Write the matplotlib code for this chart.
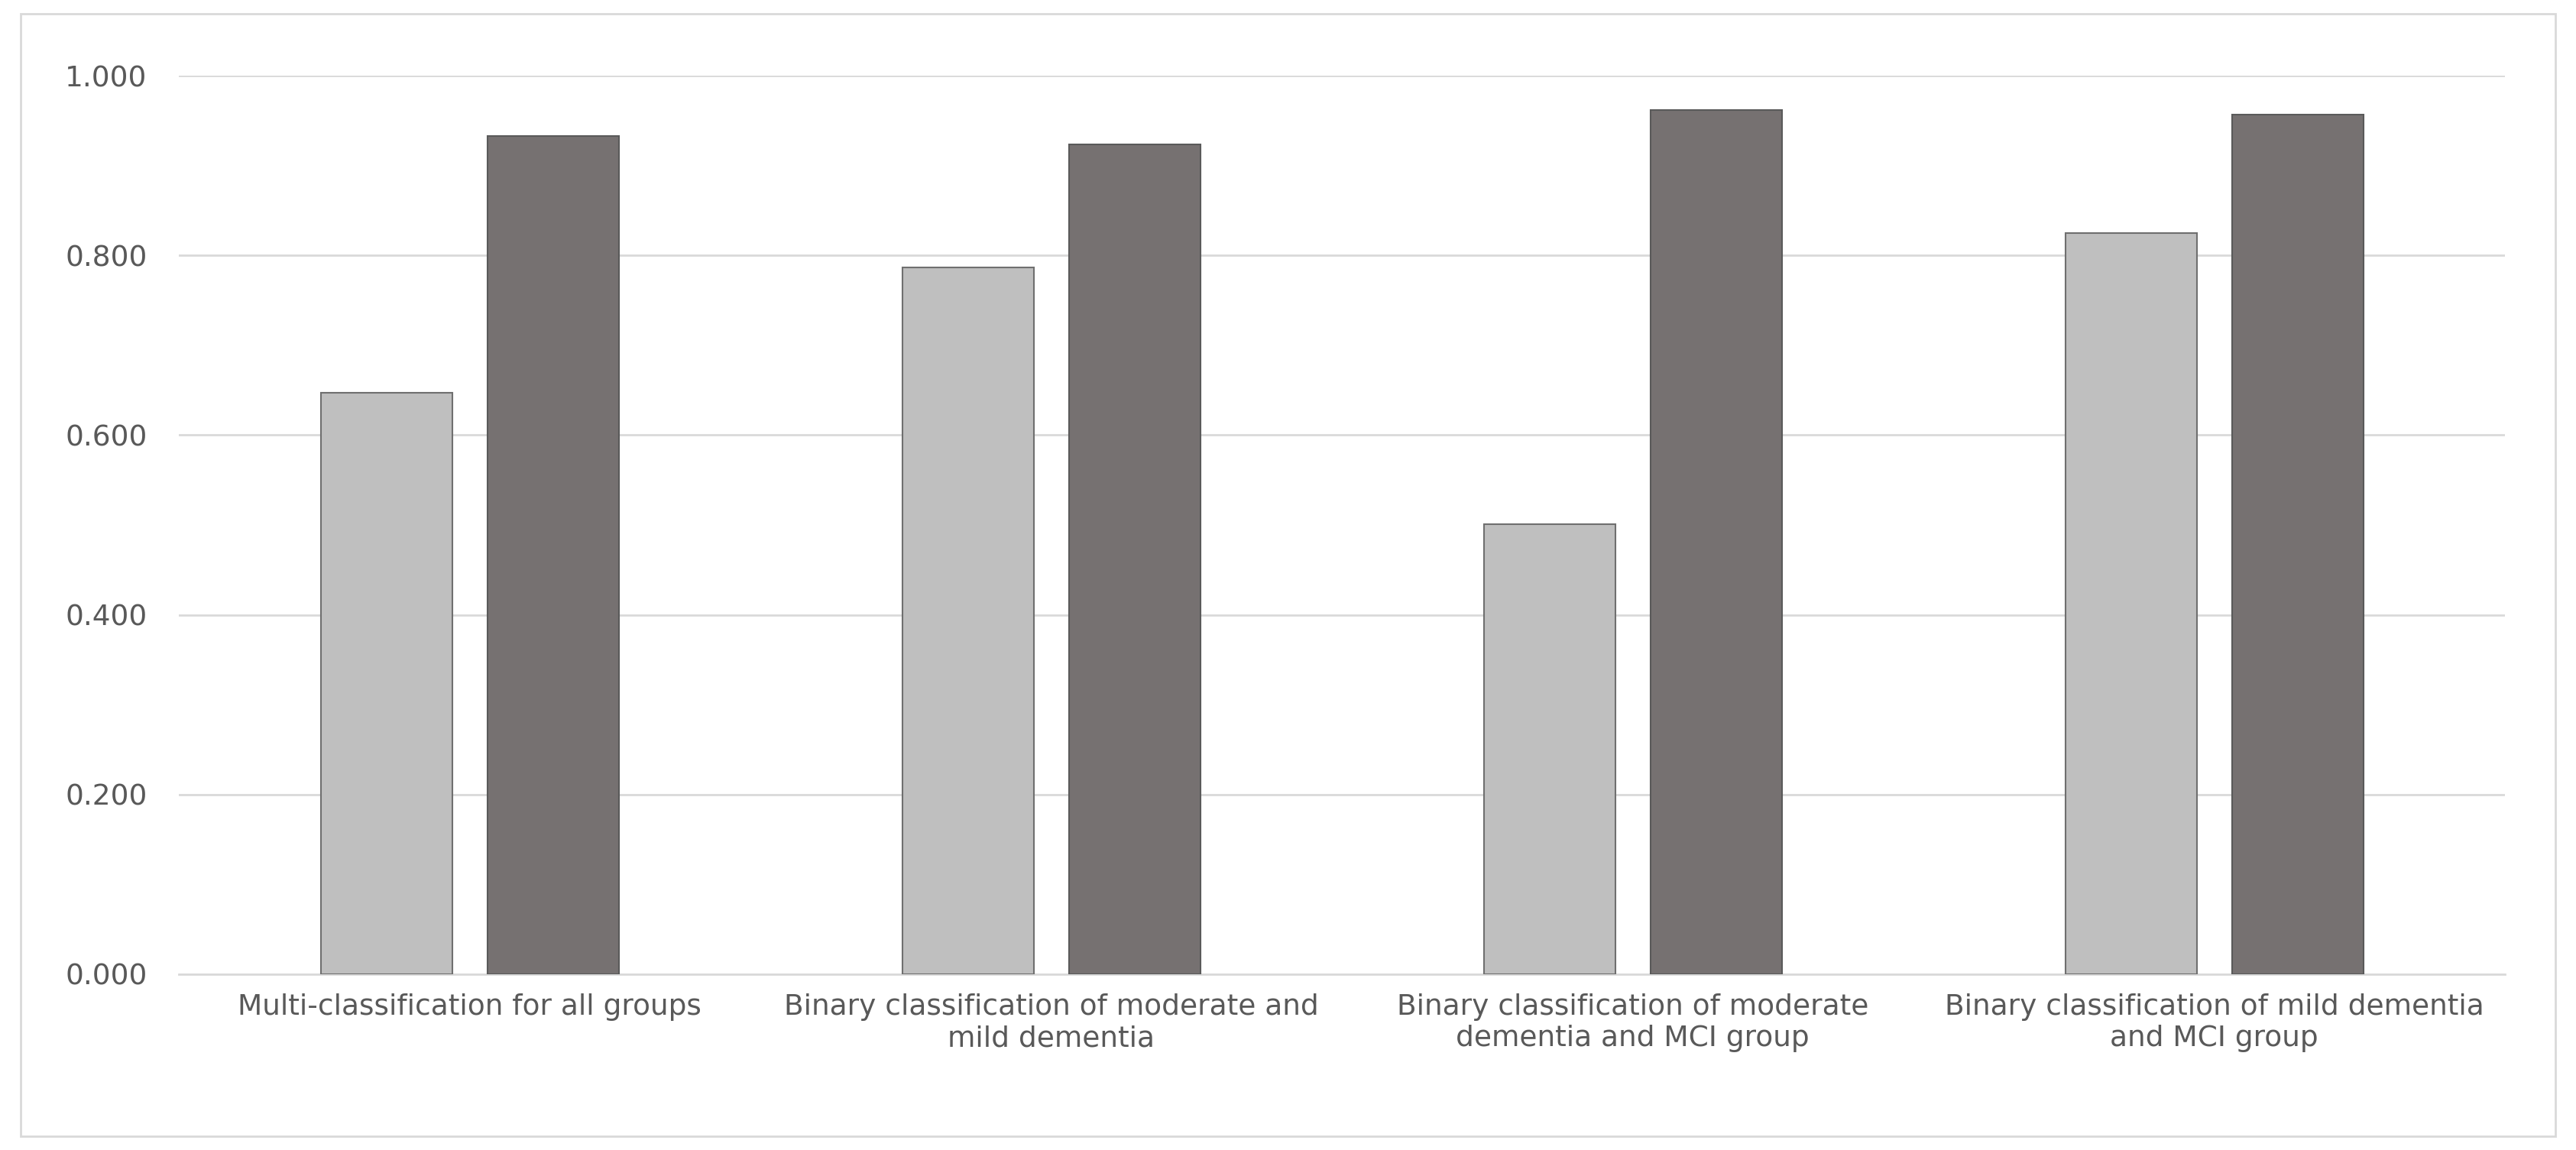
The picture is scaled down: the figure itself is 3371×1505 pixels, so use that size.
import matplotlib.pyplot as plt
import numpy as np
from matplotlib.patches import Rectangle

categories = ['Multi-classification for all groups',
              'Binary classification of moderate and\nmild dementia',
              'Binary classification of moderate\ndementia and MCI group',
              'Binary classification of mild dementia\nand MCI group']
series_a = [0.647, 0.787, 0.501, 0.825]
series_b = [0.933, 0.924, 0.962, 0.957]

fig = plt.figure(figsize=(33.71, 15.05), dpi=100)
ax = fig.add_axes([0.0695, 0.153, 0.903, 0.781])
plt.rcParams['font.family'] = ['Calibri', 'Liberation Sans', 'DejaVu Sans']

x = np.arange(len(categories))
w = 0.226
ax.bar(x - 0.143, series_a, width=w, color='#bfbfbf', edgecolor='#6f6f6f', linewidth=1.5, zorder=3)
ax.bar(x + 0.143, series_b, width=w, color='#767171', edgecolor='#5a5a5a', linewidth=1.5, zorder=3)

ax.set_xlim(-0.5, 3.5)
ax.set_ylim(0, 1.0)
ax.set_yticks(np.arange(0, 1.01, 0.2))
ax.set_yticklabels([f'{v:.3f}' for v in np.arange(0, 1.01, 0.2)])
ax.set_xticks(x)
ax.set_xticklabels(categories)
ax.yaxis.grid(True, color='#d9d9d9', linewidth=2, zorder=0)
for s in ['top', 'right', 'left']:
    ax.spines[s].set_visible(False)
ax.spines['bottom'].set_color('#d9d9d9')
ax.spines['bottom'].set_linewidth(2)
ax.tick_params(axis='both', length=0, labelsize=27, labelcolor='#595959', pad=18)
ax.tick_params(axis='y', pad=30)

# outer frame
fig.patches.append(Rectangle((0.008, 0.012), 0.984, 0.976, transform=fig.transFigure,
                             fill=False, edgecolor='#d9d9d9', linewidth=2))

fig.savefig('out.png', dpi=100)
